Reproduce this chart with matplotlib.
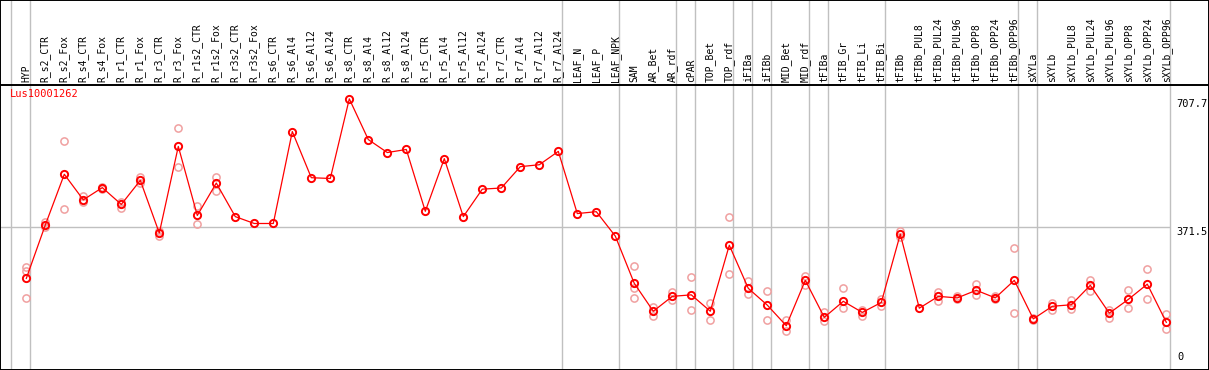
import numpy as np
import matplotlib
matplotlib.use('Agg')
import matplotlib.pyplot as plt

gene = 'Lus10001262'
samples = ['HYP', 'R_s2_CTR', 'R_s2_Fox', 'R_s4_CTR', 'R_s4_Fox', 'R_r1_CTR', 'R_r1_Fox',
           'R_r3_CTR', 'R_r3_Fox', 'R_r1s2_CTR', 'R_r1s2_Fox', 'R_r3s2_CTR', 'R_r3s2_Fox',
           'R_s6_CTR', 'R_s6_Al4', 'R_s6_Al12', 'R_s6_Al24', 'R_s8_CTR', 'R_s8_Al4',
           'R_s8_Al12', 'R_s8_Al24', 'R_r5_CTR', 'R_r5_Al4', 'R_r5_Al12', 'R_r5_Al24',
           'R_r7_CTR', 'R_r7_Al4', 'R_r7_Al12', 'R_r7_Al24', 'LEAF_N', 'LEAF_P', 'LEAF_NPK',
           'SAM', 'AR_Bet', 'AR_rdf', 'cPAR', 'TOP_Bet', 'TOP_rdf', 'iFIBa', 'iFIBb',
           'MID_Bet', 'MID_rdf', 'tFIBa', 'tFIB_Gr', 'tFIB_Li', 'tFIB_Bi', 'tFIBb',
           'tFIBb_PUL8', 'tFIBb_PUL24', 'tFIBb_PUL96', 'tFIBb_OPP8', 'tFIBb_OPP24',
           'tFIBb_OPP96', 'sXYLa', 'sXYLb', 'sXYLb_PUL8', 'sXYLb_PUL24', 'sXYLb_PUL96',
           'sXYLb_OPP8', 'sXYLb_OPP24', 'sXYLb_OPP96']

mean = [237, 377, 510, 443, 475, 431, 494, 356, 583, 402, 487, 399, 381,
        381, 622, 501, 499, 707.7, 601, 567, 575, 413, 551, 399, 471,
        474, 530, 535, 570, 407, 412, 348,
        224, 151, 190, 194, 151, 324, 211, 167, 113, 232,
        135, 177, 148, 174, 353, 159, 190, 186, 206, 186, 232,
        131, 164, 168, 219, 146, 182, 222, 122]

nan = np.nan
rep1 = [266, 384, 596, 453, 477, 438, 503, 362, 632, 426, 504, nan, nan,
        nan, nan, nan, nan, nan, nan, nan, nan, nan, nan, nan, nan,
        nan, nan, nan, nan, nan, nan, nan,
        269, 163, 202, 240, 173, 397, 230, 203, 129, 243,
        148, 211, 154, 183, 362, nan, 202, 190, 222, 190, 318,
        134, 173, 180, 233, 154, 206, 261, 144]
rep2 = [257, 372, 420, 438, 472, 422, 488, 349, 530, 380, 465, nan, nan,
        nan, nan, nan, nan, nan, nan, nan, nan, nan, nan, nan, nan,
        nan, nan, nan, nan, nan, nan, nan,
        213, 139, 180, 154, 127, 248, 195, 128, 99, 221,
        126, 160, 139, 166, 345, nan, 177, 182, 193, 182, 147,
        128, 154, 157, 205, 134, 160, 183, 104]
rep3 = [185, nan, nan, nan, nan, nan, nan, nan, nan, nan, nan, nan, nan,
        nan, nan, nan, nan, nan, nan, nan, nan, nan, nan, nan, nan,
        nan, nan, nan, nan, nan, nan, nan,
        187, nan, nan, nan, nan, nan, nan, nan, nan, nan,
        nan, nan, nan, nan, nan, nan, nan, nan, nan, nan, nan,
        nan, nan, nan, nan, nan, nan, nan, nan]

# group separators come after these sample indices
separators = [-1, 0, 28, 31, 34, 35, 37, 38, 39, 41, 42, 45, 52, 53, 60]
ref_lines = [707.7, 371.5, 0]

W, H = 1209, 370
head_px = 85
fig = plt.figure(figsize=(W / 100, H / 100), dpi=100)
ax = fig.add_axes([0, 0, 1, (H - head_px) / H])
hx = fig.add_axes([0, (H - head_px) / H, 1, head_px / H])

x = np.arange(len(samples))
x0, step = 26.3, 19.0
xlim = (-x0 / step, (W - x0) / step)
grey = '#c0c0c0'

for a in (ax, hx):
    a.set_xlim(*xlim)
    a.set_xticks([])
    a.set_yticks([])
    for s in a.spines.values():
        s.set_color('black')
        s.set_linewidth(1.4)
    for k in separators:
        a.axvline(k + 0.21, color=grey, lw=1.0, zorder=0)

ax.spines['top'].set_visible(False)
ax.set_ylim(-3, 744)
ax.hlines(371.5, xlim[0], separators[-1] + 0.21, color=grey, lw=1.0, zorder=0)

pink = '#f0a0a0'
for r in (rep1, rep2, rep3):
    ax.plot(x, r, ls='none', marker='o', ms=5.2, mfc='none', mec=pink, mew=1.1, zorder=2)
ax.plot(x, mean, color='red', lw=0.9, marker='o', ms=5.2, mfc='none', mec='red',
        mew=1.4, zorder=3)

ax.text(0.008, 0.985, gene, transform=ax.transAxes, color='red', ha='left', va='top',
        family='DejaVu Sans Mono', fontsize=7.5)

tr = ax.get_yaxis_transform()
for v in ref_lines:
    lab = f'{v:g}'
    if v == 0:
        ax.annotate(lab, xy=(separators[-1] + 0.21, v), xycoords=('data', 'data'),
                    xytext=(5, 5), textcoords='offset points', va='bottom', ha='left',
                    family='DejaVu Sans Mono', fontsize=7.5)
    else:
        ax.annotate(lab, xy=(separators[-1] + 0.21, v), xycoords=('data', 'data'),
                    xytext=(4, 0), textcoords='offset points', va='top', ha='left',
                    family='DejaVu Sans Mono', fontsize=7.5)

hx.set_ylim(0, 1)
for i, s in enumerate(samples):
    hx.text(i, 0.03, s, rotation=90, ha='center', va='bottom',
            family='DejaVu Sans Mono', fontsize=7)

fig.savefig('out.png', dpi=100)
